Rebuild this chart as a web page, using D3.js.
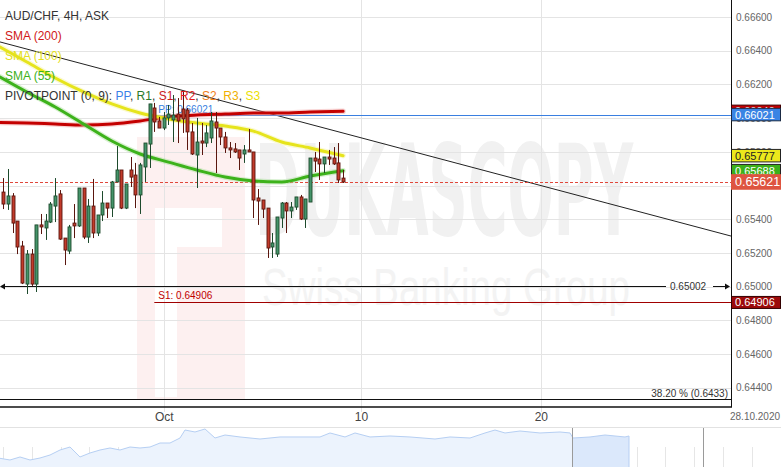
<!DOCTYPE html>
<html><head><meta charset="utf-8">
<script src="https://cdn.jsdelivr.net/npm/d3@7"></script>
<style>
html,body{margin:0;padding:0;background:#fff;overflow:hidden}
svg{display:block}
text{font-family:"Liberation Sans",Arial,sans-serif}
</style>
</head><body>
<svg id="c" width="781" height="467"></svg>
<script>
// ---------- DATA ----------
const candleOpen = [0.65561,0.65490,0.65538,0.65389,0.65241,0.65015,0.65193,0.65015,0.65366,0.65348,
0.65383,0.65478,0.65550,0.65288,0.65211,0.65377,0.65360,0.65585,0.65294,0.65478,
0.65318,0.65425,0.65496,0.65466,0.65621,0.65692,0.65466,0.65692,0.65662,0.65544,
0.65710,0.65846,0.66060,0.65983,0.65941,0.66001,0.65989,0.66024,0.66054,0.66048,
0.65918,0.65781,0.65864,0.65852,0.65882,0.65977,0.65941,0.65888,0.65823,0.65817,
0.65811,0.65787,0.65811,0.65799,0.65526,0.65514,0.65466,0.65235,0.65193,0.65407,
0.65496,0.65449,0.65472,0.65532,0.65401,0.65502,0.65763,0.65757,0.65728,0.65769,
0.65763,0.65734,0.65644];
const candleHigh = [0.65644,0.65698,0.65555,0.65389,0.65271,0.65217,0.65223,0.65366,0.65431,0.65431,
0.65502,0.65644,0.65573,0.65288,0.65366,0.65490,0.65585,0.65585,0.65520,0.65639,
0.65425,0.65567,0.65496,0.65627,0.65834,0.65692,0.65609,0.65769,0.65734,0.65734,
0.65852,0.66084,0.66090,0.66007,0.66036,0.66078,0.66137,0.66119,0.66155,0.66060,
0.65971,0.66001,0.65971,0.65959,0.66036,0.66036,0.65941,0.65918,0.65858,0.65852,
0.65811,0.65840,0.65935,0.65799,0.65579,0.65514,0.65466,0.65318,0.65413,0.65502,
0.65502,0.65502,0.65532,0.65544,0.65520,0.65763,0.65799,0.65858,0.65769,0.65811,
0.65828,0.65852,0.65692];
const candleLow = [0.65460,0.65455,0.65318,0.65193,0.65015,0.64956,0.65004,0.64968,0.65312,0.65277,
0.65377,0.65383,0.65277,0.65128,0.65193,0.65288,0.65354,0.65282,0.65259,0.65288,
0.65300,0.65389,0.65407,0.65413,0.65621,0.65460,0.65460,0.65591,0.65466,0.65431,
0.65621,0.65704,0.65918,0.65941,0.65929,0.65959,0.65858,0.65852,0.65912,0.65811,
0.65781,0.65585,0.65781,0.65828,0.65852,0.65674,0.65840,0.65793,0.65763,0.65793,
0.65692,0.65734,0.65799,0.65407,0.65366,0.65407,0.65170,0.65170,0.65176,0.65348,
0.65318,0.65407,0.65455,0.65395,0.65348,0.65502,0.65680,0.65633,0.65674,0.65722,
0.65722,0.65615,0.65615];
const candleClose = [0.65490,0.65538,0.65377,0.65235,0.65021,0.65193,0.65015,0.65366,0.65354,0.65389,
0.65490,0.65538,0.65282,0.65217,0.65354,0.65360,0.65585,0.65294,0.65478,0.65318,
0.65425,0.65496,0.65466,0.65621,0.65692,0.65466,0.65609,0.65650,0.65544,0.65722,
0.65852,0.66084,0.65977,0.65941,0.66001,0.66024,0.66018,0.65983,0.65995,0.65918,
0.65787,0.65858,0.65852,0.65912,0.65983,0.65941,0.65888,0.65823,0.65811,0.65799,
0.65763,0.65811,0.65799,0.65514,0.65508,0.65460,0.65229,0.65259,0.65413,0.65496,
0.65449,0.65472,0.65532,0.65401,0.65520,0.65763,0.65745,0.65728,0.65769,0.65757,
0.65728,0.65633,0.65621];

const smaIndex = [-0.7,5,11,17,23,29,35,41,47,53,59,65,72];
const sma200 = [0.65974,0.65971,0.65965,0.65959,0.65965,0.65983,0.66007,0.66018,0.66024,0.66030,0.66030,0.66036,0.66040];
const sma100 = [0.66422,0.66333,0.66238,0.66155,0.66084,0.66030,0.65995,0.65971,0.65953,0.65923,0.65858,0.65823,0.65777];
const sma55  = [0.66244,0.66155,0.66066,0.65965,0.65864,0.65787,0.65739,0.65692,0.65650,0.65627,0.65621,0.65656,0.65688];

const trendIndex = [-0.7, 154.2];
const trendValue = [0.66452, 0.65300];
const pivotStartIndex = 32;
const ppValue = 0.66021;
const s1Value = 0.64906;
const levelValue = 0.65002;
const fibValue = 0.6433;
const fibLabel = "38.20 % (0.6433)";
const lastPrice = 0.65621;

const yTicks = [0.644,0.646,0.648,0.650,0.652,0.654,0.656,0.658,0.660,0.662,0.664,0.666];
const xTickIndex = [34, 75.8, 113.9];
const xTickLabels = ["Oct", "10", "20"];
const dateLabel = "28.10.2020";

const navDay = [0,5,10,15,20,25,30,35,37.5,40,45,50,55,60,65,70,75,80,85,90,92.5,97.5,102.5,107.5,112.5,120,130,140,150,160,165,172.5,177.5,185,195,205,217.5,225,235,242.5,247.5,252.5,260,270,280,285,286.5,295,302.5,307.5,312.5,314.5];
const navValue = [0.6141,0.6114,0.6163,0.6114,0.6146,0.6195,0.6276,0.6325,0.6244,0.6163,0.6228,0.6276,0.6309,0.6276,0.6325,0.6309,0.6325,0.6390,0.6390,0.6471,0.6601,0.6569,0.6618,0.6471,0.6520,0.6488,0.6455,0.6488,0.6488,0.6488,0.6553,0.6488,0.6553,0.6488,0.6504,0.6488,0.6455,0.6488,0.6471,0.6553,0.6601,0.6553,0.6585,0.6553,0.6569,0.6553,0.6471,0.6488,0.6520,0.6504,0.6488,0.6504];
const navSelStart = 286.5, navEnd = 314.5, navMark = [286, 351.5];

// ---------- CHART ----------
const svg = d3.select("#c");
const W = 731, bottom = 407;
const x = d3.scaleLinear().domain([-0.7, 154.2]).range([0, W]);
const y = d3.scaleLinear().domain([0.644, 0.666]).range([387.7, 17]);

// watermark
const wm = svg.append("g");
wm.append("rect").attr("x",137).attr("y",137).attr("width",108).attr("height",263).attr("fill","#fdf0f0");
wm.append("rect").attr("x",155).attr("y",208).attr("width",67).attr("height",39).attr("fill","#fff");
wm.append("rect").attr("x",155).attr("y",247).attr("width",22).attr("height",150).attr("fill","#fff");
wm.append("text").attr("x",255).attr("y",235).attr("font-size",126).attr("font-weight","bold")
  .attr("textLength",378).attr("lengthAdjust","spacingAndGlyphs")
  .style("font-family","'Liberation Sans Narrow','DejaVu Sans Condensed',Arial,sans-serif")
  .attr("fill","#f1f1f1").text("DUKASCOPY");
wm.append("text").attr("x",262).attr("y",305).attr("font-size",52)
  .attr("textLength",368).attr("lengthAdjust","spacingAndGlyphs")
  .attr("fill","#f3f3f3").text("Swiss Banking Group");

// grid
const grid = svg.append("g");
grid.selectAll("line.h").data(yTicks).join("line").attr("class","h")
  .attr("x1",0).attr("x2",W).attr("y1",d=>Math.round(y(d))+0.5).attr("y2",d=>Math.round(y(d))+0.5)
  .attr("stroke","#e4e4e4");
grid.selectAll("line.v").data(xTickIndex).join("line").attr("class","v")
  .attr("x1",d=>Math.round(x(d))+0.5).attr("x2",d=>Math.round(x(d))+0.5).attr("y1",0).attr("y2",412)
  .attr("stroke","#e4e4e4");

// trend line
svg.append("line").attr("x1",x(trendIndex[0])).attr("y1",y(trendValue[0]))
  .attr("x2",x(trendIndex[1])).attr("y2",y(trendValue[1])).attr("stroke","#222").attr("stroke-width",1);

// pivot lines
const px0 = x(pivotStartIndex);
svg.append("line").attr("x1",px0).attr("x2",W).attr("y1",Math.round(y(ppValue))+0.5).attr("y2",Math.round(y(ppValue))+0.5)
  .attr("stroke","#3a7fe0").attr("stroke-width",1);
svg.append("text").attr("x",px0+4).attr("y",y(ppValue)-2).attr("font-size",10).attr("fill","#3a7fe0").text("PP: "+ppValue.toFixed(5));
svg.append("line").attr("x1",px0).attr("x2",W).attr("y1",Math.round(y(s1Value))+0.5).attr("y2",Math.round(y(s1Value))+0.5)
  .attr("stroke","#a00000").attr("stroke-width",1);
svg.append("text").attr("x",px0+4).attr("y",y(s1Value)-3).attr("font-size",10).attr("fill","#c00000").text("S1: "+s1Value.toFixed(5));

// horizontal level 0.65002
const ly = Math.round(y(levelValue))+0.5;
svg.append("line").attr("x1",2).attr("x2",666).attr("y1",ly).attr("y2",ly).attr("stroke","#111");
svg.append("path").attr("d",`M0,${ly} L5,${ly-3} L5,${ly+3} Z`).attr("fill","#111");
svg.append("text").attr("x",670).attr("y",ly+3.5).attr("font-size",10).attr("fill","#333").text(levelValue.toFixed(5));
svg.append("line").attr("x1",713).attr("x2",726).attr("y1",ly).attr("y2",ly).attr("stroke","#111");
svg.append("path").attr("d",`M730,${ly} L725,${ly-3} L725,${ly+3} Z`).attr("fill","#111");

// fib
const fy = Math.round(y(fibValue))+0.5;
svg.append("line").attr("x1",0).attr("x2",W).attr("y1",fy).attr("y2",fy).attr("stroke","#111");
svg.append("text").attr("x",728).attr("y",fy-3).attr("text-anchor","end").attr("font-size",10).attr("fill","#333").text(fibLabel);

// current price dashed
const cy = Math.round(y(lastPrice))+0.5;
svg.append("line").attr("x1",0).attr("x2",W).attr("y1",cy).attr("y2",cy).attr("stroke","#e0473a").attr("stroke-dasharray","3,2");

// SMA lines
const line = d3.line().x((d,i)=>x(smaIndex[i])).y(d=>y(d)).curve(d3.curveMonotoneX);
function sma(vals, core, halo){
  svg.append("path").attr("d",line(vals)).attr("fill","none").attr("stroke",halo).attr("stroke-width",5.5).attr("stroke-opacity",0.45).attr("stroke-linecap","round");
  svg.append("path").attr("d",line(vals)).attr("fill","none").attr("stroke",core).attr("stroke-width",3).attr("stroke-linecap","round");
}
sma(sma200, "#c40000", "#f0a0a0");
sma(sma100, "#e6e41c", "#f4f29a");
sma(sma55,  "#3db21b", "#a8de98");

// candles
const cg = svg.append("g");
candleOpen.forEach((o,i)=>{
  const h=candleHigh[i], l=candleLow[i], c=candleClose[i];
  const up = c >= o;
  const cx = Math.round(x(i))+0.5;
  const dark = up ? "#1d4a2c" : "#5a160e";
  const fill = up ? "#44946a" : "#c23b2b";
  cg.append("line").attr("x1",cx).attr("x2",cx).attr("y1",y(h)).attr("y2",y(l)).attr("stroke",dark).attr("stroke-width",1);
  const top = y(Math.max(o,c)), bot = y(Math.min(o,c));
  cg.append("rect").attr("x",cx-1.5).attr("y",top).attr("width",3).attr("height",Math.max(1.5,bot-top))
    .attr("fill",fill).attr("stroke",dark).attr("stroke-width",0.9);
});

// legend
const lg = svg.append("g").attr("font-size",12);
lg.append("text").attr("x",5).attr("y",19.5).attr("fill","#333").text("AUD/CHF, 4H, ASK");
lg.append("text").attr("x",5).attr("y",39.5).attr("fill","#d01818").text("SMA (200)");
lg.append("text").attr("x",5).attr("y",59.5).attr("fill","#e4e020").text("SMA (100)");
lg.append("text").attr("x",5).attr("y",79.5).attr("fill","#3cb01a").text("SMA (55)");
const pv = lg.append("text").attr("x",5).attr("y",100);
[["PIVOTPOINT (0, 9): ","#333"],["PP","#3a7fe8"],[", ","#333"],["R1","#2a7a2a"],[", ","#333"],["S1","#cc1c1c"],[", ","#333"],
 ["R2","#e01c1c"],[", ","#333"],["S2","#f08020"],[", ","#333"],["R3","#f0b000"],[", ","#333"],["S3","#ece000"]]
 .forEach(([t,c])=>pv.append("tspan").attr("fill",c).text(t));

// axes frame
svg.append("rect").attr("x",W+0.5).attr("y",0).attr("width",50).attr("height",467).attr("fill","#fff");
svg.append("line").attr("x1",W+0.5).attr("x2",W+0.5).attr("y1",0).attr("y2",bottom).attr("stroke","#111");
svg.append("line").attr("x1",0).attr("x2",W+1).attr("y1",bottom).attr("y2",bottom).attr("stroke","#111").attr("stroke-width",1.6);

// y axis labels
const ya = svg.append("g").attr("transform",`translate(${W},0)`)
  .call(d3.axisRight(y).tickValues(yTicks).tickFormat(d3.format(".5f")).tickSize(0).tickPadding(5));
ya.select(".domain").remove();
ya.selectAll("text").attr("font-size",10).attr("fill","#666").style("font-family","'Liberation Sans',Arial,sans-serif");

// x axis labels
const xa = svg.append("g").attr("transform",`translate(0,${bottom})`)
  .call(d3.axisBottom(x).tickValues(xTickIndex).tickFormat((d,i)=>xTickLabels[i]).tickSize(0).tickPadding(5));
xa.select(".domain").remove();
xa.selectAll("text").attr("font-size",12).attr("fill","#444").style("font-family","'Liberation Sans',Arial,sans-serif");
svg.append("text").attr("x",730).attr("y",420).attr("font-size",10).attr("fill","#666").text(dateLabel);

// value boxes
function box(v, fill, stroke, tcol, h, fs){
  const cyv = y(v);
  svg.append("rect").attr("x",W+0.5).attr("y",cyv-h/2).attr("width",49).attr("height",h)
    .attr("fill",fill).attr("stroke",stroke).attr("stroke-width",1);
  svg.append("text").attr("x",W+4).attr("y",cyv+fs*0.36).attr("font-size",fs).attr("fill",tcol).text(v.toFixed(5));
}
box(sma200[sma200.length-1], "#c40000", "#400", "#fff", 12.5, 11);
box(ppValue, "#3a84e4", "#1a2a44", "#fff", 12.5, 11);
box(sma100[sma100.length-1], "#ece81c", "#222", "#222", 12.5, 11);
box(sma55[sma55.length-1], "#3cb01a", "#222", "#fff", 12.5, 11);
box(lastPrice, "#de5440", "#de5440", "#fff", 14.5, 12.5);
box(s1Value, "#9c0a0a", "#300", "#fff", 12, 11);

// navigator
const nx = d3.scaleLinear().domain([0, 390.5]).range([0, 781]);
const ny = d3.scaleLinear().domain([0.600, 0.665]).range([467, 427]);
const nav = svg.append("g");
nav.append("line").attr("x1",0).attr("x2",781).attr("y1",427.5).attr("y2",427.5).attr("stroke","#e2e2e2");
nav.selectAll("line.t").data(d3.range(1.5, 390, 14.4)).join("line").attr("class","t")
  .attr("x1",d=>Math.round(nx(d))+0.5).attr("x2",d=>Math.round(nx(d))+0.5).attr("y1",447).attr("y2",467).attr("stroke","#e6e6e6");
const navPts = navDay.map((d,i)=>[d,navValue[i]]);
const area = d3.area().x(d=>nx(d[0])).y0(467).y1(d=>ny(d[1]));
const nline = d3.line().x(d=>nx(d[0])).y(d=>ny(d[1]));
nav.append("path").attr("d",area(navPts.filter(d=>d[0]<=navSelStart))).attr("fill","#ecf3fd");
nav.append("path").attr("d",area(navPts.filter(d=>d[0]>=navSelStart))).attr("fill","#dbe8fb");
nav.append("path").attr("d",nline(navPts)).attr("fill","none").attr("stroke","#b6cff3").attr("stroke-width",1);
nav.append("line").attr("x1",nx(navEnd)).attr("x2",nx(navEnd)).attr("y1",ny(navValue[navValue.length-1])).attr("y2",467).attr("stroke","#b6cff3");
navMark.forEach(d=>nav.append("line").attr("x1",Math.round(nx(d))+0.5).attr("x2",Math.round(nx(d))+0.5).attr("y1",428).attr("y2",467).attr("stroke","#9a9a9a"));
</script>
</body></html>
